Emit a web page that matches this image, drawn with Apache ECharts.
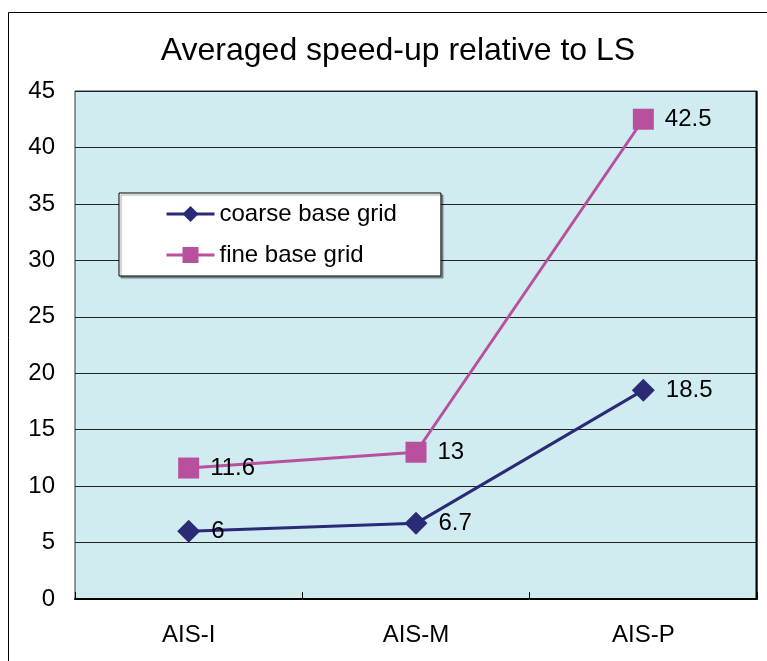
<!DOCTYPE html>
<html>
<head>
<meta charset="utf-8">
<script src="https://cdn.jsdelivr.net/npm/echarts@6/dist/echarts.min.js"></script>
<style>
  html, body { margin: 0; padding: 0; background: #fff; }
  #chart { width: 767px; height: 661px; }
</style>
</head>
<body>
<div id="chart"></div>
<script>
// Categories and speed-up values per base grid
const categories = ['AIS-I', 'AIS-M', 'AIS-P'];
const coarseGrid = [6, 6.7, 18.5];
const fineGrid = [11.6, 13, 42.5];
const yTicks = { min: 0, max: 45, interval: 5 };

const FONT = 'Liberation Sans, Arial, sans-serif';
const chart = echarts.init(document.getElementById('chart'), null, { renderer: 'canvas' });

const labelStyle = {
  show: true,
  position: 'right',
  distance: 11,
  color: '#000',
  fontFamily: FONT,
  fontSize: 24
};

chart.setOption({
  animation: false,
  backgroundColor: '#fff',
  textStyle: { fontFamily: FONT },
  title: {
    text: 'Averaged speed-up relative to LS',
    left: 393,
    textAlign: 'center',
    top: 30,
    textStyle: { fontSize: 32, fontWeight: 'normal', color: '#000', fontFamily: FONT }
  },
  graphic: [
    {
      // outer chart frame
      type: 'rect',
      shape: { x: 8.5, y: 12.5, width: 800, height: 700 },
      style: { fill: 'none', stroke: '#000', lineWidth: 1 },
      z: 100
    },
    {
      // heavier right edge of the plot area
      type: 'line',
      shape: { x1: 756.5, y1: 91, x2: 756.5, y2: 600 },
      style: { stroke: '#000', lineWidth: 2 },
      z: 100
    }
  ],
  grid: {
    left: 75, top: 91, right: 10, bottom: 62,
    show: true,
    backgroundColor: '#d0ecf0',
    borderColor: '#333',
    borderWidth: 1,
    containLabel: false
  },
  legend: {
    orient: 'vertical',
    left: 119,
    top: 193,
    backgroundColor: '#fff',
    borderColor: '#000',
    borderWidth: 1,
    shadowColor: 'rgba(0,0,0,0.35)',
    shadowOffsetX: 2,
    shadowOffsetY: 2,
    shadowBlur: 1,
    padding: [9, 44, 9, 46],
    itemGap: 17,
    itemWidth: 48,
    itemHeight: 20,
    lineStyle: { width: 3 },
    textStyle: { fontSize: 24, color: '#000', fontFamily: FONT, padding: [0, 0, 0, 0] },
    data: ['coarse base grid', 'fine base grid']
  },
  xAxis: {
    type: 'category',
    data: categories,
    boundaryGap: true,
    axisLine: { show: true, lineStyle: { color: '#000', width: 2 } },
    axisTick: { show: true, inside: true, length: 7, lineStyle: { color: '#000' } },
    axisLabel: { color: '#000', fontSize: 24, margin: 24, fontFamily: FONT },
    splitLine: { show: false }
  },
  yAxis: {
    type: 'value',
    min: yTicks.min,
    max: yTicks.max,
    interval: yTicks.interval,
    axisLine: { show: false },
    axisTick: { show: false },
    axisLabel: { color: '#000', fontSize: 24, margin: 20, fontFamily: FONT },
    splitLine: { show: true, lineStyle: { color: '#222', width: 1 } }
  },
  series: [
    {
      name: 'coarse base grid',
      type: 'line',
      data: coarseGrid,
      symbol: 'diamond',
      symbolSize: 23,
      itemStyle: { color: '#2b2a76' },
      lineStyle: { color: '#2b2a76', width: 3 },
      label: labelStyle,
      z: 3
    },
    {
      name: 'fine base grid',
      type: 'line',
      data: fineGrid,
      symbol: 'rect',
      symbolSize: 21,
      itemStyle: { color: '#b8509e' },
      lineStyle: { color: '#b8509e', width: 3 },
      label: labelStyle,
      z: 3
    }
  ]
});
</script>
</body>
</html>
